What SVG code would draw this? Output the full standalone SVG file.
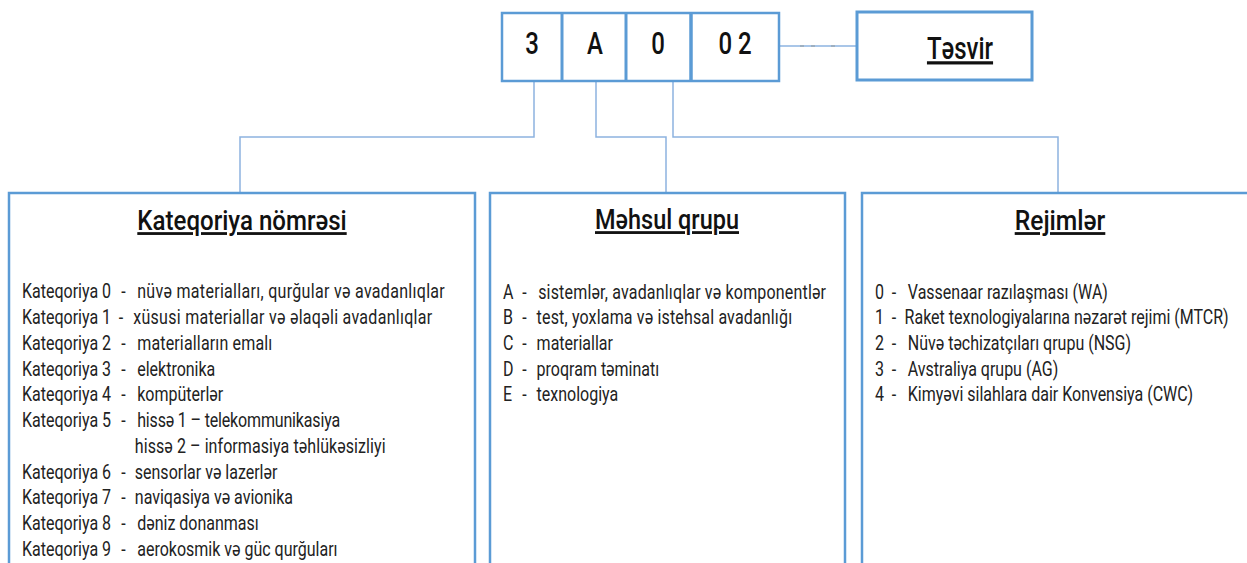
<svg xmlns="http://www.w3.org/2000/svg" width="1247" height="563" viewBox="0 0 1247 563">
<style>
.box{fill:#fff;stroke:#5b9bd5;stroke-width:2.5}
.conn{fill:none;stroke:#8db3e0;stroke-width:1.5}
.dig{font-family:Roboto,"Liberation Sans",sans-serif;font-size:32px;font-weight:500;fill:#111;text-anchor:middle}
.ttl{font-family:Roboto,"Liberation Sans",sans-serif;font-size:28px;font-weight:500;fill:#111;text-decoration:underline}
.t{font-family:Roboto,"Liberation Sans",sans-serif;font-size:20px;fill:#222}
</style>
<rect width="1247" height="563" fill="#fff"/>
<g id="connectors">
<polyline class="conn" points="534,82 534,137 240,137 240,193"/>
<polyline class="conn" points="596,82 596,137 666,137 666,193"/>
<polyline class="conn" points="673,82 673,137 1058,137 1058,193"/>
<line class="conn" x1="780" y1="46" x2="856" y2="46"/>
<g stroke="#9aa7b5" stroke-width="1.5"><line x1="800" y1="46" x2="804" y2="46"/><line x1="811" y1="46" x2="815" y2="46"/><line x1="831" y1="46" x2="835" y2="46"/></g>
</g>
<g id="code">
<rect class="box" x="502" y="13" width="277" height="68"/>
<line x1="562" y1="13" x2="562" y2="81" stroke="#5b9bd5" stroke-width="3"/>
<line x1="626" y1="13" x2="626" y2="81" stroke="#5b9bd5" stroke-width="3"/>
<line x1="691" y1="13" x2="691" y2="81" stroke="#5b9bd5" stroke-width="3.5"/>
<text class="dig" transform="translate(532,54) scale(0.75,1)">3</text>
<text class="dig" transform="translate(595,54) scale(0.75,1)">A</text>
<text class="dig" transform="translate(658,54) scale(0.75,1)">0</text>
<text class="dig" transform="translate(735,54) scale(0.75,1)">0 2</text>
</g>
<g id="tesvir">
<rect x="857" y="12" width="175" height="68" fill="#fff" stroke="#5b9bd5" stroke-width="3"/>
<text class="dig" transform="translate(960,59) scale(0.75,1)" style="text-decoration:underline">Təsvir</text>
</g>
<g id="kateqoriya">
<rect class="box" x="9" y="193" width="466" height="380"/>
<text class="ttl" transform="translate(242,230) scale(0.86,1)" text-anchor="middle">Kateqoriya nömrəsi</text>
<g class="t">
<text transform="translate(22,298) scale(0.8,1)">Kateqoriya 0<tspan x="124">-</tspan><tspan x="144" letter-spacing="0.38">nüvə materialları, qurğular və avadanlıqlar</tspan></text>
<text transform="translate(22,324) scale(0.8,1)">Kateqoriya 1<tspan x="121">-</tspan><tspan x="139" letter-spacing="0.36">xüsusi materiallar və əlaqəli avadanlıqlar</tspan></text>
<text transform="translate(22,350) scale(0.8,1)">Kateqoriya 2<tspan x="124">-</tspan><tspan x="144" letter-spacing="0.2">materialların emalı</tspan></text>
<text transform="translate(22,376) scale(0.8,1)">Kateqoriya 3<tspan x="124">-</tspan><tspan x="144">elektronika</tspan></text>
<text transform="translate(22,401) scale(0.8,1)">Kateqoriya 4<tspan x="124">-</tspan><tspan x="144">kompüterlər</tspan></text>
<text transform="translate(22,427) scale(0.8,1)">Kateqoriya 5<tspan x="124">-</tspan><tspan x="144" letter-spacing="-0.2">hissə 1 – telekommunikasiya</tspan></text>
<text transform="translate(22,453) scale(0.8,1)"><tspan x="141" letter-spacing="0.1">hissə 2 – informasiya təhlükəsizliyi</tspan></text>
<text transform="translate(22,479) scale(0.8,1)">Kateqoriya 6<tspan x="124">-</tspan><tspan x="141">sensorlar və lazerlər</tspan></text>
<text transform="translate(22,504) scale(0.8,1)">Kateqoriya 7<tspan x="124">-</tspan><tspan x="141">naviqasiya və avionika</tspan></text>
<text transform="translate(22,530) scale(0.8,1)">Kateqoriya 8<tspan x="124">-</tspan><tspan x="144">dəniz donanması</tspan></text>
<text transform="translate(22,556) scale(0.8,1)">Kateqoriya 9<tspan x="124">-</tspan><tspan x="144">aerokosmik və güc qurğuları</tspan></text>
</g>
</g>
<g id="mehsul">
<rect class="box" x="490" y="193" width="355" height="380"/>
<text class="ttl" transform="translate(667,229) scale(0.84,1)" text-anchor="middle">Məhsul qrupu</text>
<g class="t">
<text transform="translate(503,299) scale(0.8,1)">A<tspan x="24">-</tspan><tspan x="44" letter-spacing="0.22">sistemlər, avadanlıqlar və komponentlər</tspan></text>
<text transform="translate(503,324) scale(0.8,1)">B<tspan x="24">-</tspan><tspan x="42" letter-spacing="0.2">test, yoxlama və istehsal avadanlığı</tspan></text>
<text transform="translate(503,350) scale(0.8,1)">C<tspan x="24">-</tspan><tspan x="42">materiallar</tspan></text>
<text transform="translate(503,376) scale(0.8,1)">D<tspan x="24">-</tspan><tspan x="42">proqram təminatı</tspan></text>
<text transform="translate(503,401) scale(0.8,1)">E<tspan x="24">-</tspan><tspan x="42">texnologiya</tspan></text>
</g>
</g>
<g id="rejimler">
<rect class="box" x="862" y="193" width="400" height="380"/>
<text class="ttl" transform="translate(1060,230) scale(0.88,1)" text-anchor="middle">Rejimlər</text>
<g class="t">
<text transform="translate(875,299) scale(0.8,1)">0<tspan x="21">-</tspan><tspan x="41">Vassenaar razılaşması (WA)</tspan></text>
<text transform="translate(875,324) scale(0.8,1)">1<tspan x="21">-</tspan><tspan x="37">Raket texnologiyalarına nəzarət rejimi (MTCR)</tspan></text>
<text transform="translate(875,350) scale(0.8,1)">2<tspan x="21">-</tspan><tspan x="41">Nüvə təchizatçıları qrupu (NSG)</tspan></text>
<text transform="translate(875,376) scale(0.8,1)">3<tspan x="21">-</tspan><tspan x="41">Avstraliya qrupu (AG)</tspan></text>
<text transform="translate(875,401) scale(0.8,1)">4<tspan x="21">-</tspan><tspan x="41">Kimyəvi silahlara dair Konvensiya (CWC)</tspan></text>
</g>
</g>
</svg>
